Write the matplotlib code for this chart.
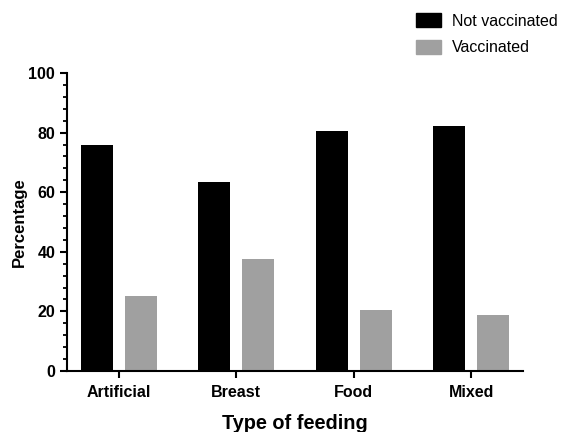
import numpy as np
import matplotlib
matplotlib.use('Agg')
import matplotlib.pyplot as plt
from matplotlib.ticker import MultipleLocator
from matplotlib.patches import Patch

plt.rcParams['font.family'] = ['Liberation Sans', 'DejaVu Sans']

feeding = ['Artificial', 'Breast', 'Food', 'Mixed']
not_vaccinated = [75.8, 63.4, 80.5, 82.2]
vaccinated = [25.2, 37.6, 20.5, 18.8]

x = np.arange(len(feeding))
w = 0.27
off = 0.187

fig = plt.figure(figsize=(5.65, 4.32), dpi=100)
ax = fig.add_axes([0.1186, 0.1412, 0.8071, 0.6898])

ax.bar(x - off, not_vaccinated, w, color='black')
ax.bar(x + off, vaccinated, w, color='#a0a0a0')

ax.set_xlim(-0.44, 3.44)
ax.set_ylim(0, 100)
ax.yaxis.set_major_locator(MultipleLocator(20))
ax.yaxis.set_minor_locator(MultipleLocator(4))
ax.set_xticks(x)
ax.set_xticklabels(feeding, fontsize=11.5, fontweight='bold')
for lab in ax.get_yticklabels():
    lab.set_fontsize(11.5)
    lab.set_fontweight('bold')

ax.spines['top'].set_visible(False)
ax.spines['right'].set_visible(False)
ax.spines['left'].set_linewidth(1.5)
ax.spines['bottom'].set_linewidth(1.5)
ax.tick_params(axis='both', which='major', width=1.5, length=5)
ax.tick_params(axis='y', which='minor', width=1.3, length=3)
ax.tick_params(axis='x', pad=5)

ax.set_ylabel('Percentage', fontsize=12, fontweight='bold', labelpad=1)
ax.set_xlabel('Type of feeding', fontsize=14.3, fontweight='bold', labelpad=10)

handles = [Patch(color='black', label='Not vaccinated'),
           Patch(color='#a0a0a0', label='Vaccinated')]
fig.legend(handles=handles, loc='upper left', bbox_to_anchor=(0.71, 1.003),
           frameon=False, fontsize=11.5, handlelength=1.6, handleheight=1.0,
           handletextpad=0.7, labelspacing=0.7)

fig.savefig('out.png', dpi=100)
